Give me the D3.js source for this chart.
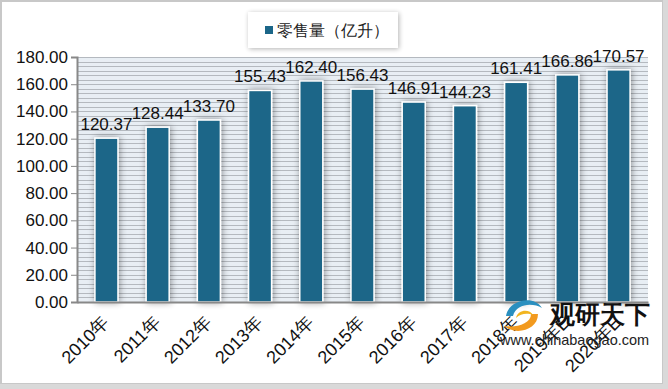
<!DOCTYPE html>
<html lang="zh">
<head>
<meta charset="UTF-8">
<title>零售量</title>
<script src="https://cdn.jsdelivr.net/npm/d3@7/dist/d3.min.js"></script>
<style>
  body { margin: 0; background: #fff; }
  text { font-family: "Liberation Sans", Arial, sans-serif; }
</style>
</head>
<body>
<script>
const years = ["2010年", "2011年", "2012年", "2013年", "2014年", "2015年", "2016年", "2017年", "2018年", "2019年E", "2020年E"];
const retail = [120.37, 128.44, 133.70, 155.43, 162.40, 156.43, 146.91, 144.23, 161.41, 166.86, 170.57];
const yTicks = [0, 20, 40, 60, 80, 100, 120, 140, 160, 180];
const seriesName = "零售量（亿升）";

const W = 668, H = 389;
const m = { left: 77, right: 20, top: 57, bottom: 87 };

const svg = d3.select("body").append("svg")
  .attr("width", W)
  .attr("height", H);

const defs = svg.append("defs");
const shadow = defs.append("filter").attr("id", "shadow")
  .attr("x", "-60%").attr("y", "-10%").attr("width", "220%").attr("height", "120%");
shadow.append("feGaussianBlur").attr("in", "SourceAlpha").attr("stdDeviation", 3.5);
shadow.append("feOffset").attr("dx", 1).attr("dy", 0).attr("result", "b");
shadow.append("feComponentTransfer").append("feFuncA").attr("type", "linear").attr("slope", 0.4);
const fm = shadow.append("feMerge");
fm.append("feMergeNode");
fm.append("feMergeNode").attr("in", "SourceGraphic");

const boxShadow = defs.append("filter").attr("id", "boxshadow")
  .attr("x", "-20%").attr("y", "-40%").attr("width", "140%").attr("height", "180%");
boxShadow.append("feGaussianBlur").attr("in", "SourceAlpha").attr("stdDeviation", 2.5);
boxShadow.append("feOffset").attr("dx", 1).attr("dy", 1);
boxShadow.append("feComponentTransfer").append("feFuncA").attr("type", "linear").attr("slope", 0.3);
const bm = boxShadow.append("feMerge");
bm.append("feMergeNode");
bm.append("feMergeNode").attr("in", "SourceGraphic");

// outer frame
svg.append("rect")
  .attr("x", 1).attr("y", 1).attr("width", W - 6).attr("height", H - 6)
  .attr("fill", "none").attr("stroke", "#c8c8c8").attr("stroke-width", 2);
svg.append("rect").attr("x", W - 5).attr("y", 0).attr("width", 5).attr("height", H).attr("fill", "#d9d9d9");
svg.append("rect").attr("x", 0).attr("y", H - 5).attr("width", W).attr("height", 5).attr("fill", "#d9d9d9");

const x = d3.scaleBand()
  .domain(years)
  .range([m.left, W - m.right])
  .paddingInner(0.55)
  .paddingOuter(0.35);

const y = d3.scaleLinear()
  .domain([0, 180])
  .range([H - m.bottom, m.top]);

// plot background with dense stripes
svg.append("rect")
  .attr("x", m.left).attr("y", y(180))
  .attr("width", W - m.right - m.left).attr("height", y(0) - y(180))
  .attr("fill", "#e8eef4");

svg.append("g")
  .selectAll("line")
  .data(d3.range(0, 181, 10 / 3))
  .join("line")
  .attr("x1", m.left).attr("x2", W - m.right)
  .attr("y1", d => Math.round(y(d)) + 0.5).attr("y2", d => Math.round(y(d)) + 0.5)
  .attr("stroke", "#b4b9bf").attr("stroke-width", 1);

// bars
svg.append("g")
  .selectAll("rect")
  .data(retail)
  .join("rect")
  .attr("x", (d, i) => x(years[i]))
  .attr("y", d => y(d))
  .attr("width", x.bandwidth())
  .attr("height", d => y(0) - y(d))
  .attr("fill", "#1b6688")
  .attr("stroke", "#ffffff")
  .attr("stroke-width", 1.5)
  .attr("filter", "url(#shadow)");

// value labels
svg.append("g")
  .selectAll("text")
  .data(retail)
  .join("text")
  .attr("x", (d, i) => x(years[i]) + x.bandwidth() / 2)
  .attr("y", d => y(d) - 8)
  .attr("text-anchor", "middle")
  .attr("font-size", 17)
  .attr("fill", "#111")
  .text(d => d.toFixed(2));

// y axis
const yAxis = svg.append("g")
  .attr("transform", `translate(${m.left},0)`)
  .call(d3.axisLeft(y).tickValues(yTicks).tickSize(6).tickFormat(d => d.toFixed(2)));
yAxis.select(".domain").attr("stroke", "#888").attr("stroke-width", 2);
yAxis.selectAll(".tick line").attr("stroke", "#888");
yAxis.selectAll(".tick text").attr("font-size", 17).attr("fill", "#111").attr("x", -9)
  .attr("font-family", "'Liberation Sans', Arial, sans-serif");

// x axis
const xAxis = svg.append("g")
  .attr("transform", `translate(0,${y(0)})`)
  .call(d3.axisBottom(x).tickSize(0));
xAxis.select(".domain").attr("stroke", "#888").attr("stroke-width", 2);
xAxis.selectAll(".tick text")
  .attr("font-size", 18).attr("fill", "#111")
  .attr("font-family", "'Liberation Sans', 'Noto Sans CJK SC', sans-serif")
  .attr("text-anchor", "end")
  .attr("dy", "0.35em")
  .attr("transform", "translate(-3,15) rotate(-45)");

// legend
const lg = svg.append("g").attr("transform", "translate(248,12)");
lg.append("rect").attr("width", 150).attr("height", 36).attr("fill", "#fff").attr("filter", "url(#boxshadow)");
lg.append("rect").attr("x", 17).attr("y", 14).attr("width", 8).attr("height", 8).attr("fill", "#1b6688");
lg.append("text").attr("x", 29).attr("y", 24).attr("font-size", 16).attr("fill", "#222")
  .attr("font-family", "'Noto Sans CJK SC', sans-serif")
  .text(seriesName);

// watermark
const wm = svg.append("g").attr("transform", "translate(504,300)");
wm.append("path").attr("d", "M2,16 C4,0 30,-6 38,8 C28,2 12,4 9,16 Z").attr("fill", "#2a8fbf");
wm.append("path").attr("d", "M34,14 C34,30 12,36 0,26 C12,28 27,24 27,14 Z").attr("fill", "#f29a1f");
wm.append("path").attr("d", "M12,18 C14,9 26,9 29,15 C24,13 17,13 12,18 Z").attr("fill", "#f2b51f");
wm.append("text").attr("x", 46).attr("y", 23).attr("font-size", 25).attr("font-weight", "bold")
  .attr("font-family", "'Noto Sans CJK SC', sans-serif").attr("fill", "#111").text("观研天下");
wm.append("text").attr("x", -4).attr("y", 45).attr("font-size", 14.5)
  .attr("fill", "#222").text("www.chinabaogao.com");
</script>
</body>
</html>
